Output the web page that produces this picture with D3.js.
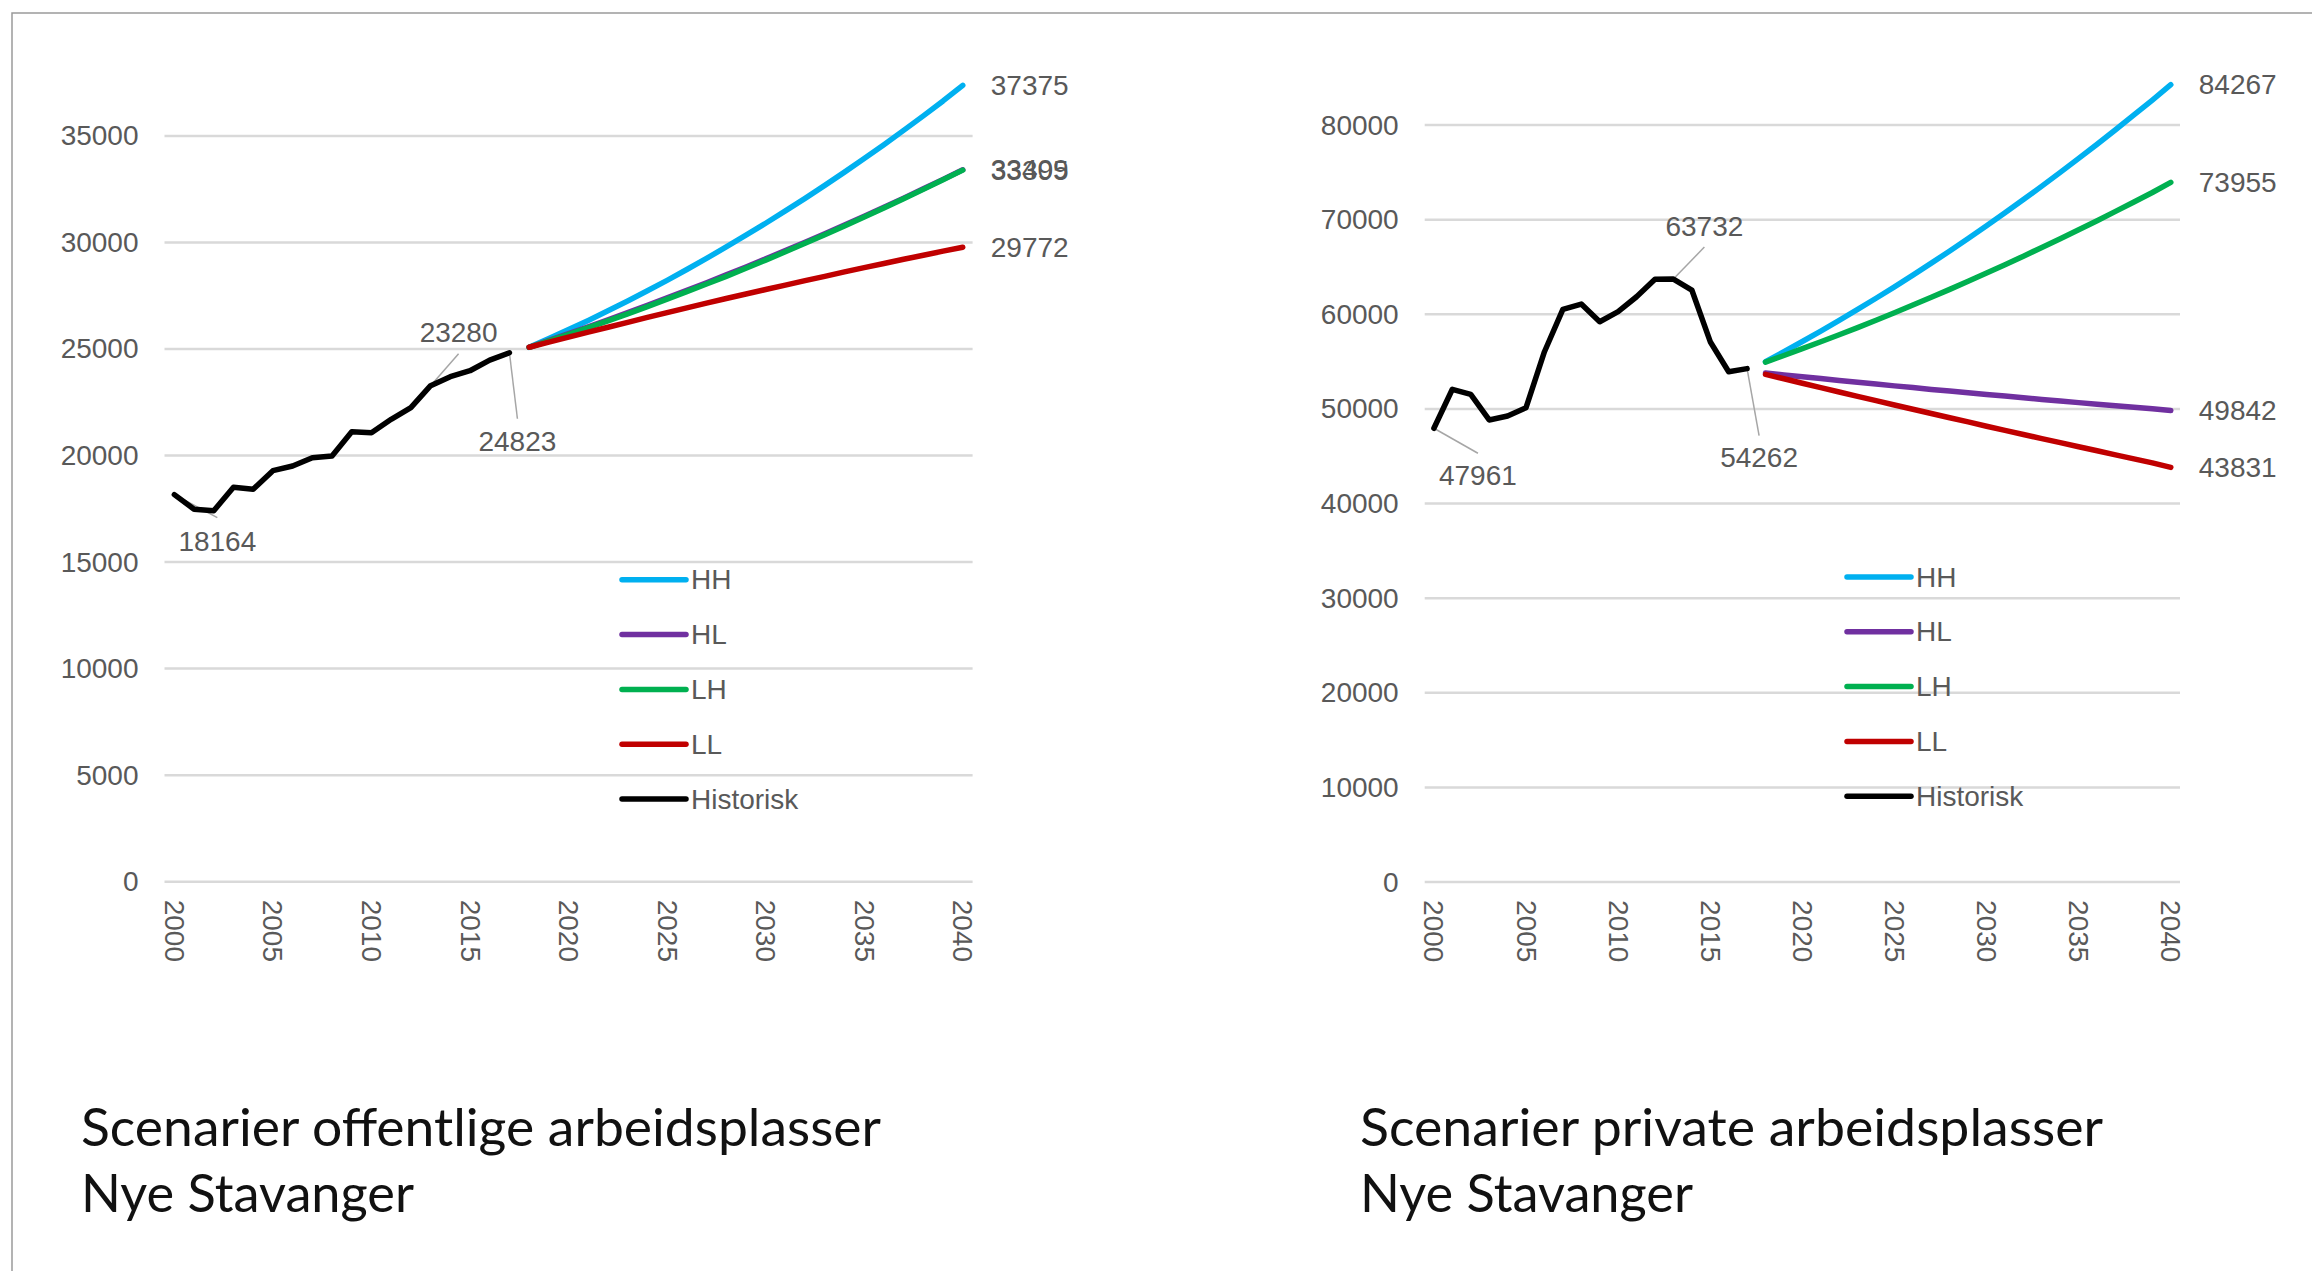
<!DOCTYPE html>
<html lang="no">
<head>
<meta charset="UTF-8">
<title>Scenarier arbeidsplasser Nye Stavanger</title>
<script src="https://d3js.org/d3.v7.min.js"></script>
<style>
    body { margin: 0; background: #fff; }
    svg text { font-family: "Liberation Sans", Arial, sans-serif; }
    .tick-label, .data-label, .legend-label { fill: #595959; font-size: 28px; }
    .title { font-family: Lato, "Open Sans", sans-serif; fill: #111; font-size: 52px; }
</style>
</head>
<body>
<svg id="chart" width="2312" height="1271"></svg>
<script>
// categories
const years = d3.range(2000, 2041);
const histYears = d3.range(2000, 2018);
const scenYears = d3.range(2018, 2041);
const xTickYears = [2000, 2005, 2010, 2015, 2020, 2025, 2030, 2035, 2040];
const seriesNames = ["HH", "HL", "LH", "LL", "Historisk"];

// offentlige arbeidsplasser
const offTicks = [0, 5000, 10000, 15000, 20000, 25000, 30000, 35000];
const offHist = [18164, 17480, 17410, 18510, 18420, 19290, 19510, 19900, 19980, 21120,
                 21070, 21700, 22250, 23280, 23700, 23980, 24480, 24823];
const offHH = [25080, 25490, 25910, 26340, 26790, 27250, 27730, 28220, 28730, 29250, 29790, 30340,
               30900, 31480, 32070, 32680, 33300, 33940, 34590, 35260, 35940, 36640, 37375];
const offHL = [25080, 25400, 25720, 26040, 26370, 26710, 27050, 27400, 27750, 28110, 28480, 28850,
               29230, 29620, 30010, 30410, 30820, 31230, 31650, 32080, 32520, 32960, 33409];
const offLH = [25080, 25380, 25690, 26000, 26320, 26650, 26990, 27340, 27690, 28050, 28410, 28790,
               29170, 29560, 29960, 30360, 30770, 31190, 31620, 32050, 32490, 32940, 33395];
const offLL = [25080, 25320, 25560, 25790, 26020, 26250, 26480, 26710, 26930, 27150, 27370, 27580,
               27790, 28000, 28210, 28410, 28620, 28820, 29010, 29210, 29400, 29590, 29772];
const offMarked = [[2000, 18164], [2013, 23280], [2017, 24823]];

// private arbeidsplasser
const privTicks = [0, 10000, 20000, 30000, 40000, 50000, 60000, 70000, 80000];
const privHist = [47961, 52080, 51550, 48840, 49260, 50140, 56050, 60530, 61090, 59220,
                  60280, 61860, 63700, 63732, 62570, 57110, 53940, 54262];
const privHH = [55000, 56050, 57130, 58230, 59360, 60520, 61700, 62910, 64150, 65410, 66700, 68020,
                69360, 70730, 72130, 73550, 75000, 76480, 77980, 79510, 81070, 82650, 84267];
const privHL = [53800, 53600, 53400, 53210, 53010, 52820, 52630, 52440, 52260, 52070, 51890, 51710,
                51530, 51360, 51180, 51010, 50840, 50670, 50510, 50340, 50180, 50020, 49842];
const privLH = [54950, 55650, 56370, 57100, 57840, 58600, 59380, 60170, 60980, 61800, 62640, 63500,
                64370, 65250, 66150, 67070, 68000, 68940, 69900, 70880, 71870, 72880, 73955];
const privLL = [53660, 53190, 52720, 52260, 51790, 51330, 50880, 50420, 49970, 49520, 49070, 48630,
                48180, 47740, 47300, 46870, 46440, 46010, 45580, 45150, 44730, 44310, 43831];
const privMarked = [[2000, 47961], [2013, 63732], [2017, 54262]];

const colors = { HH: "#00b0f0", HL: "#7030a0", LH: "#00b050", LL: "#c00000", Historisk: "#000000" };

const svg = d3.select("#chart");

// frame
svg.append("path")
    .attr("d", "M12,1271 V13 H2312")
    .attr("fill", "none")
    .attr("stroke", "#9a9a9a")
    .attr("stroke-width", 1.5);

function drawPanel(p) {
    const g = svg.append("g");
    const x = d3.scalePoint().domain(years).range([p.left, p.right]).padding(0.5);
    const y = d3.scaleLinear().domain([0, p.yMax]).range([p.bottom, p.top]);

    // gridlines + y labels
    g.selectAll(".grid").data(p.ticks).join("line")
        .attr("x1", p.left).attr("x2", p.right)
        .attr("y1", d => y(d)).attr("y2", d => y(d))
        .attr("stroke", "#d9d9d9").attr("stroke-width", 2.5);
    g.selectAll(".ylab").data(p.ticks).join("text")
        .attr("class", "tick-label")
        .attr("x", p.left - 26).attr("y", d => y(d))
        .attr("text-anchor", "end").attr("dominant-baseline", "central")
        .text(d => d);

    // rotated year labels
    g.selectAll(".xlab").data(xTickYears).join("text")
        .attr("class", "tick-label")
        .attr("transform", d => `translate(${x(d)},${p.bottom + 18}) rotate(90)`)
        .attr("text-anchor", "start").attr("dominant-baseline", "central")
        .text(d => d);

    // leader lines for marked historic points (under the lines)
    p.marked.forEach((m, i) => {
        const o = p.markOffsets[i];
        const px = x(m[0]), py = y(m[1]);
        const lx = px + o[0], ly = py + o[1];
        g.append("line")
            .attr("x1", lx).attr("y1", ly + o[2])
            .attr("x2", px).attr("y2", py)
            .attr("stroke", "#a6a6a6").attr("stroke-width", 1.5);
        g.append("text")
            .attr("class", "data-label")
            .attr("x", lx).attr("y", ly)
            .attr("text-anchor", "middle").attr("dominant-baseline", "central")
            .text(m[1]);
    });

    const line = d3.line().x(d => x(d[0])).y(d => y(d[1]));
    const series = [
        ["HH", scenYears, p.HH], ["HL", scenYears, p.HL], ["LH", scenYears, p.LH],
        ["LL", scenYears, p.LL], ["Historisk", histYears, p.hist]
    ];
    series.forEach(([name, yrs, vals]) => {
        g.append("path")
            .datum(yrs.map((yr, i) => [yr, vals[i]]))
            .attr("d", line)
            .attr("fill", "none")
            .attr("stroke", colors[name])
            .attr("stroke-width", 5.5)
            .attr("stroke-linejoin", "round")
            .attr("stroke-linecap", "round");
    });

    // end labels
    [p.HH, p.HL, p.LH, p.LL].forEach(vals => {
        const v = vals[vals.length - 1];
        g.append("text")
            .attr("class", "data-label")
            .attr("x", x(2040) + 28).attr("y", y(v))
            .attr("dominant-baseline", "central")
            .text(v);
    });

    // legend
    seriesNames.forEach((name, i) => {
        const ly = p.legendY + i * 54.8;
        g.append("line")
            .attr("x1", p.legendX).attr("x2", p.legendX + 64)
            .attr("y1", ly).attr("y2", ly)
            .attr("stroke", colors[name]).attr("stroke-width", 5.5)
            .attr("stroke-linecap", "round");
        g.append("text")
            .attr("class", "legend-label")
            .attr("x", p.legendX + 69).attr("y", ly)
            .attr("dominant-baseline", "central")
            .text(name);
    });

    // title
    p.title.forEach((t, i) => {
        g.append("text")
            .attr("class", "title")
            .attr("x", p.titleX).attr("y", 1146 + i * 66)
            .attr("textLength", p.titleWidths[i])
            .attr("lengthAdjust", "spacingAndGlyphs")
            .text(t);
    });
}

drawPanel({
    left: 164.5, right: 972.6, bottom: 881.7, top: 135.9, yMax: 35000,
    ticks: offTicks, hist: offHist, HH: offHH, HL: offHL, LH: offLH, LL: offLL,
    marked: offMarked,
    markOffsets: [[43, 47, -24], [28, -53, 21], [8, 89, -23]],
    legendX: 622, legendY: 579.8,
    titleX: 81, title: ["Scenarier offentlige arbeidsplasser", "Nye Stavanger"], titleWidths: [800, 333]
});

drawPanel({
    left: 1424.7, right: 2180, bottom: 882.1, top: 125.1, yMax: 80000,
    ticks: privTicks, hist: privHist, HH: privHH, HL: privHL, LH: privLH, LL: privLL,
    marked: privMarked,
    markOffsets: [[44, 47, -22], [31, -53, 21], [12, 89, -22]],
    legendX: 1847, legendY: 577,
    titleX: 1360, title: ["Scenarier private arbeidsplasser", "Nye Stavanger"], titleWidths: [743, 333]
});
</script>
</body>
</html>
